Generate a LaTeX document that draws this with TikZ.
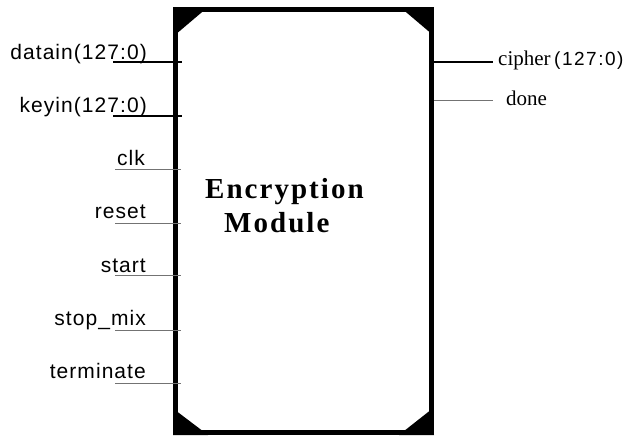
\documentclass[tikz,border=0pt]{standalone}
\usepackage{fontspec}
\setmainfont{Liberation Serif}
\newfontfamily\pinfont[LetterSpace=5]{Liberation Sans}
\newfontfamily\busfont[LetterSpace=8]{Liberation Sans}
\newfontfamily\sigfont{Liberation Serif}
\newfontfamily\titlefont[LetterSpace=7]{Liberation Serif}
\begin{document}
\begin{tikzpicture}[x=1pt,y=-1pt,
  inlabel/.style={anchor=base east,inner sep=0pt,font=\pinfont\fontsize{21}{21}\selectfont},
  outlabel/.style={anchor=base west,inner sep=0pt,font=\sigfont\fontsize{21}{21}\selectfont},
  titleline/.style={anchor=base west,inner sep=0pt,font=\titlefont\fontsize{29}{34}\selectfont\bfseries},
  buswire/.style={line width=2.2pt,black},
  bitwire/.style={line width=0.9pt,black!55},
  corner/.style={fill=black}]
\useasboundingbox (0,0) rectangle (633,437);

% module body
\node (mod) [draw,line width=5pt,minimum width=256pt,minimum height=423pt,inner sep=0pt]
  at (303.5,221) {};
\fill[corner] (mod.north west) -- ++(35,0) -- ++(-33,28) -- cycle;
\fill[corner] (mod.north east) -- ++(-34,0) -- ++(33,28) -- cycle;
\fill[corner] (mod.south west) -- ++(35,0) -- ++(-33,-25) -- cycle;
\fill[corner] (mod.south east) -- ++(-35,0) -- ++(33,-26) -- cycle;

\node (title1) [titleline] at (205,198) {Encryption};
\node (title2) [titleline] at (224,232) {Module};

% input pins
\coordinate (dA) at (113,62);  \coordinate (dB) at (182,62);
\coordinate (kA) at (113,116); \coordinate (kB) at (182,116);
\coordinate (cA) at (115,169); \coordinate (cB) at (181,169);
\coordinate (rA) at (115,223); \coordinate (rB) at (181,223);
\coordinate (sA) at (115,275); \coordinate (sB) at (181,275);
\coordinate (mA) at (115,330); \coordinate (mB) at (181,330);
\coordinate (tA) at (115,383); \coordinate (tB) at (181,383);
\draw[buswire] (dA) -- (dB);
\draw[buswire] (kA) -- (kB);
\draw[bitwire] (cA) -- (cB);
\draw[bitwire] (rA) -- (rB);
\draw[bitwire] (sA) -- (sB);
\draw[bitwire] (mA) -- (mB);
\draw[bitwire] (tA) -- (tB);

\node (ldatain) [inlabel] at (147,59) {datain(127:0)};
\node (lkeyin)  [inlabel] at (147,112) {keyin(127:0)};
\node (lclk)    [inlabel] at (145,165) {clk};
\node (lreset)  [inlabel] at (146,218) {reset};
\node (lstart)  [inlabel] at (146,272) {start};
\node (lstop)   [inlabel] at (146,325) {stop\_mix};
\node (lterm)   [inlabel] at (146,378) {terminate};

% output pins
\coordinate (oA) at (432,62);  \coordinate (oB) at (493,62);
\coordinate (nA) at (434,100); \coordinate (nB) at (493,100);
\draw[buswire] (oA) -- (oB);
\draw[bitwire] (nA) -- (nB);

\node (lcipher) [outlabel] at (498,65) {cipher\,{\busfont\fontsize{19}{19}\selectfont(127:0)}};
\node (ldone)   [outlabel] at (506,105) {done};
\end{tikzpicture}
\end{document}
